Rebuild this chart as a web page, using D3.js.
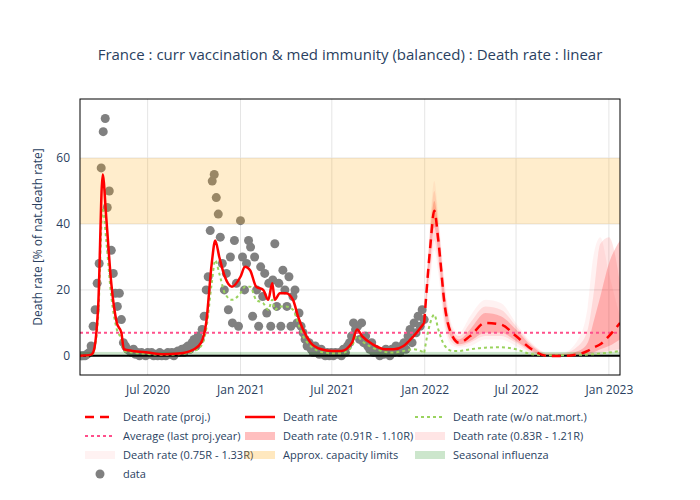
<!DOCTYPE html>
<html>
<head>
<meta charset="utf-8">
<script src="https://cdn.jsdelivr.net/npm/d3@7"></script>
<style>
  body { margin: 0; background: #fff; font-family: "Open Sans", sans-serif; }
  text { fill: #2a3f5f; }
</style>
</head>
<body>
<div id="chart"></div>
<script>
'use strict';

// observed smoothed death rate
var rateDates = ["2020-02-18","2020-03-10","2020-03-15","2020-03-25","2020-04-03","2020-04-10","2020-04-20","2020-05-01","2020-05-10","2020-05-15","2020-06-01","2020-07-01","2020-08-01","2020-09-01","2020-10-01","2020-10-15","2020-10-25","2020-11-05","2020-11-12","2020-11-20","2020-12-01","2020-12-15","2021-01-01","2021-01-10","2021-01-20","2021-02-01","2021-02-15","2021-02-25","2021-03-05","2021-03-10","2021-03-20","2021-04-01","2021-04-15","2021-04-25","2021-05-05","2021-05-20","2021-06-10","2021-07-01","2021-07-20","2021-08-10","2021-08-20","2021-08-30","2021-09-20","2021-10-15","2021-11-01","2021-11-20","2021-12-10","2021-12-31"];
var rateValues = [0,0.3,1,15,55,42,22,10,7,2,1.5,1,0.5,0.7,2,4,10,28,35,30,24,21,24,27,26,21,20,17,22,17,19,19,17,12,8,4,2,1.5,1.5,4,8,6,3.5,2,2,3,6,10];
var rateNoMort = [0,0.2,0.8,12,45,35,18,8,5,1.5,1,0.6,0.3,0.5,1.5,3,8,22,29,25,19,17,19,21,21,17,16,14,17,14,15,15,14,10,6,3,1.2,0.8,0.8,3,6,4.5,2.5,1.2,1,1.5,2,1];

// projection
var projDates = ["2021-12-31","2022-01-12","2022-01-20","2022-01-28","2022-02-10","2022-02-25","2022-03-10","2022-04-01","2022-05-01","2022-06-01","2022-07-01","2022-08-01","2022-09-01","2022-10-01","2022-11-01","2022-11-20","2022-12-01","2022-12-15","2023-01-01","2023-01-23"];
var projRate = [10,33,44,35,15,6,4,6,10,9.5,6,2,0,0,0.5,1.5,2.5,3.5,6,10];
var projNoMort = [1,10,12.5,8,3,1.5,1.5,2,2.5,2.6,2,0.5,0.2,0.2,0.3,0.4,0.5,0.7,1,1.5];
var band1Lo = [10,29,39,31,12,5,3.5,4.5,7,7,4.5,1.5,0,0,0,0.5,1,2,3,5];
var band1Hi = [10,37,47,39,18,7,5,8,13,12,8,3,0.5,0.5,1.5,4,10,18,28,35];
var band2Lo = [10,26,35,28,10,4,3,4,6,6,4,1,0,0,0,0.3,0.6,1,1.5,2];
var band2Hi = [10,39,50,41,20,8,6,10,15,14,9,3.5,0.8,0.8,3,8,18,34,36,22];
var band3Lo = [10,23,32,25,8,3,2.5,3,5,5,3,0.8,0,0,0,0,0.3,0.5,1,1];
var band3Hi = [10,41,53,43,22,9,7,12,17,16,10,4,1,1,5,15,30,36,25,12];

// daily deaths, one value every 4 days from 2020-02-20
var dataStart = "2020-02-20";
var dataValues = [0,0,0,0.5,1,3,9,14,22,28,57,68,72,45,50,32,25,19,15,19,11,4,3,2,1.5,1,2,0.5,1,0,1,0.5,0,1,
  0.5,1,0,0.5,0,1,0,0.5,0,1,0.5,1,0,1,1.5,1,2,1,2.5,3,2,4,5,3,6,5,8,12,20,24,38,53,55,48,43,36,28,20,25,14,30,10,35,22,9,
  41,30,20,28,35,33,12,30,20,9,27,18,25,13,22,9,23,34,15,22,9,26,20,15,24,9,18,20,10,13,9,7,5,3,4,2,1,3,1,0.5,2,0.5,0,1,0,1,
  0,1,0.5,1,0,2,1,3,4,6,10,8,9,5,10,4,6,3,2,4,1,2,1,0,1,0.5,2,1,0,2,1,3,2,1,3,4,2,6,8,4,10,7,12,9,14,11];

var capacity = [40, 60];
var fluBand = [0, 1.2];
var avgLastYear = 7;

var yTicks = [0, 20, 40, 60];
var xTicks = ["2020-07-01","2021-01-01","2021-07-01","2022-01-01","2022-07-01","2023-01-01"];

var parse = d3.timeParse("%Y-%m-%d");
var width = 700, height = 500;
var margin = {top: 99, right: 80, bottom: 125, left: 80};

var svg = d3.select("#chart").append("svg")
  .attr("width", width).attr("height", height);

var x = d3.scaleTime()
  .domain([parse("2020-02-18"), parse("2023-01-23")])
  .range([margin.left, width - margin.right]);
var y = d3.scaleLinear()
  .domain([-5.8, 77.9])
  .range([height - margin.bottom, margin.top]);

var plot = svg.append("g");
plot.append("defs").append("clipPath").attr("id", "clip")
  .append("rect").attr("x", margin.left).attr("y", margin.top)
  .attr("width", width - margin.left - margin.right)
  .attr("height", height - margin.top - margin.bottom);

// grid
plot.selectAll(".gx").data(xTicks).enter().append("line")
  .attr("x1", function (d) { return x(parse(d)); }).attr("x2", function (d) { return x(parse(d)); })
  .attr("y1", margin.top).attr("y2", height - margin.bottom)
  .attr("stroke", "#e5e5e5");
plot.selectAll(".gy").data(yTicks).enter().append("line")
  .attr("x1", margin.left).attr("x2", width - margin.right)
  .attr("y1", function (d) { return y(d); }).attr("y2", function (d) { return y(d); })
  .attr("stroke", "#e5e5e5");

var g = plot.append("g").attr("clip-path", "url(#clip)");

// projection bands
var pd = projDates.map(parse);
function band(lo, hi) {
  return d3.area().curve(d3.curveMonotoneX)
    .x(function (d, i) { return x(pd[i]); })
    .y0(function (d, i) { return y(lo[i]); })
    .y1(function (d, i) { return y(hi[i]); })(lo);
}
g.append("path").attr("d", band(band3Lo, band3Hi)).attr("fill", "rgba(255,0,0,0.05)");
g.append("path").attr("d", band(band2Lo, band2Hi)).attr("fill", "rgba(255,0,0,0.1)");
g.append("path").attr("d", band(band1Lo, band1Hi)).attr("fill", "rgba(255,0,0,0.2)");

// data dots
var d0 = parse(dataStart);
g.selectAll(".dot").data(dataValues).enter().append("circle")
  .attr("cx", function (d, i) { return x(d3.timeDay.offset(d0, i * 4)); })
  .attr("cy", function (d) { return y(d); })
  .attr("r", 4.5).attr("fill", "#808080");

// capacity and flu bands
g.append("rect").attr("x", margin.left).attr("width", width - margin.left - margin.right)
  .attr("y", y(capacity[1])).attr("height", y(capacity[0]) - y(capacity[1]))
  .attr("fill", "rgba(255,165,0,0.2)");
g.append("rect").attr("x", margin.left).attr("width", width - margin.left - margin.right)
  .attr("y", y(fluBand[1])).attr("height", y(fluBand[0]) - y(fluBand[1]))
  .attr("fill", "rgba(0,128,0,0.2)");

// zero line and average
g.append("line").attr("x1", margin.left).attr("x2", width - margin.right)
  .attr("y1", y(0)).attr("y2", y(0)).attr("stroke", "#000").attr("stroke-width", 2);
g.append("line").attr("x1", margin.left).attr("x2", width - margin.right)
  .attr("y1", y(avgLastYear)).attr("y2", y(avgLastYear))
  .attr("stroke", "#ff4f8b").attr("stroke-width", 2).attr("stroke-dasharray", "3,3");

function line(dates, vals) {
  return d3.line().curve(d3.curveMonotoneX)
    .x(function (d, i) { return x(dates[i]); })
    .y(function (d) { return y(d); })(vals);
}
var rd = rateDates.map(parse);
g.append("path").attr("d", line(rd, rateNoMort)).attr("fill", "none")
  .attr("stroke", "#9ad35e").attr("stroke-width", 2).attr("stroke-dasharray", "3,3");
g.append("path").attr("d", line(pd, projNoMort)).attr("fill", "none")
  .attr("stroke", "#9ad35e").attr("stroke-width", 2).attr("stroke-dasharray", "3,3");
g.append("path").attr("d", line(rd, rateValues)).attr("fill", "none")
  .attr("stroke", "#ff0000").attr("stroke-width", 2.5);
g.append("path").attr("d", line(pd, projRate)).attr("fill", "none")
  .attr("stroke", "#ff0000").attr("stroke-width", 2.5).attr("stroke-dasharray", "9,6");

// frame
plot.append("rect").attr("x", margin.left).attr("y", margin.top)
  .attr("width", width - margin.left - margin.right)
  .attr("height", height - margin.top - margin.bottom)
  .attr("fill", "none").attr("stroke", "#000");

// axes
svg.append("g").attr("transform", "translate(0," + (height - margin.bottom) + ")")
  .call(d3.axisBottom(x).tickValues(xTicks.map(parse)).tickFormat(d3.timeFormat("%b %Y")).tickSize(0).tickPadding(10))
  .call(function (a) { a.select(".domain").remove(); a.selectAll("text").attr("font-size", 12).attr("fill", "#2a3f5f").style("font-family", "Open Sans"); });
svg.append("g").attr("transform", "translate(" + margin.left + ",0)")
  .call(d3.axisLeft(y).tickValues(yTicks).tickSize(0).tickPadding(10))
  .call(function (a) { a.select(".domain").remove(); a.selectAll("text").attr("font-size", 12).attr("fill", "#2a3f5f").style("font-family", "Open Sans"); });

svg.append("text").attr("x", 350).attr("y", 60).attr("text-anchor", "middle")
  .attr("font-size", 15).text("France : curr vaccination & med immunity (balanced) : Death rate : linear");
svg.append("text").attr("transform", "translate(42,237) rotate(-90)").attr("text-anchor", "middle")
  .attr("font-size", 12).text("Death rate [% of nat.death rate]");

// legend
var legend = [
  {t: "Death rate (proj.)", k: "line", c: "#ff0000", dash: "9,6", w: 2.5},
  {t: "Death rate", k: "line", c: "#ff0000", w: 2.5},
  {t: "Death rate (w/o nat.mort.)", k: "line", c: "#9ad35e", dash: "3,3", w: 2},
  {t: "Average (last proj.year)", k: "line", c: "#ff4f8b", dash: "3,3", w: 2},
  {t: "Death rate (0.91R - 1.10R)", k: "box", c: "rgba(255,0,0,0.25)"},
  {t: "Death rate (0.83R - 1.21R)", k: "box", c: "rgba(255,0,0,0.1)"},
  {t: "Death rate (0.75R - 1.33R)", k: "box", c: "rgba(255,0,0,0.05)"},
  {t: "Approx. capacity limits", k: "box", c: "rgba(255,165,0,0.25)"},
  {t: "Seasonal influenza", k: "box", c: "rgba(0,128,0,0.2)"},
  {t: "data", k: "dot", c: "#808080"}
];
var colX = [85, 245, 415];
legend.forEach(function (l, i) {
  var lg = svg.append("g").attr("transform", "translate(" + colX[i % 3] + "," + (417 + Math.floor(i / 3) * 19) + ")");
  if (l.k === "line") {
    lg.append("line").attr("x1", 0).attr("x2", 30).attr("stroke", l.c)
      .attr("stroke-width", l.w).attr("stroke-dasharray", l.dash || null);
  } else if (l.k === "box") {
    lg.append("rect").attr("x", 0).attr("y", -4).attr("width", 30).attr("height", 8).attr("fill", l.c);
  } else {
    lg.append("circle").attr("cx", 15).attr("r", 4.5).attr("fill", l.c);
  }
  lg.append("text").attr("x", 38).attr("y", 4).attr("font-size", 11).text(l.t);
});
</script>
</body>
</html>
